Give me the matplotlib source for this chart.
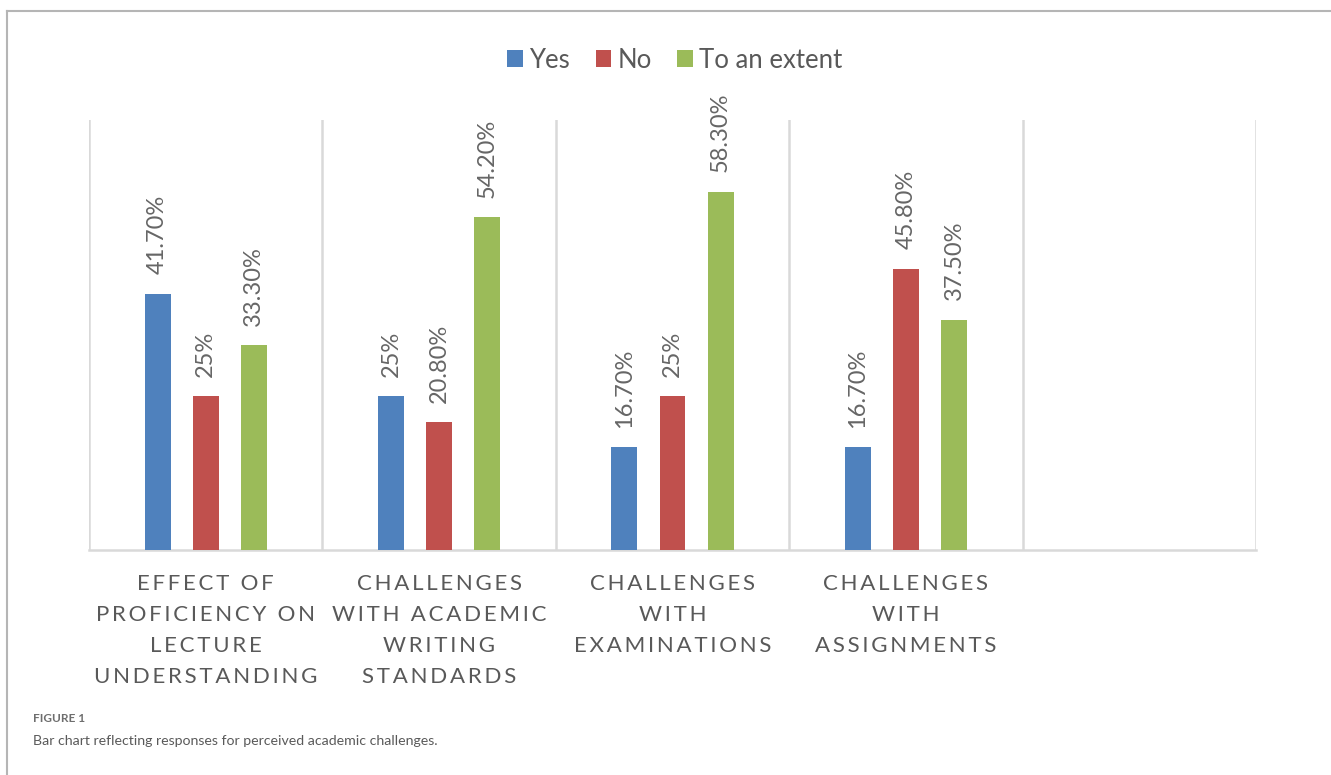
import numpy as np
import matplotlib
matplotlib.use('Agg')
from matplotlib import pyplot as plt
from matplotlib.lines import Line2D

plt.rcParams['font.family'] = ['Lato', 'DejaVu Sans']

categories = [
    ['EFFECT OF', 'PROFICIENCY ON', 'LECTURE', 'UNDERSTANDING'],
    ['CHALLENGES', 'WITH ACADEMIC', 'WRITING', 'STANDARDS'],
    ['CHALLENGES', 'WITH', 'EXAMINATIONS'],
    ['CHALLENGES', 'WITH', 'ASSIGNMENTS'],
]
series = ['Yes', 'No', 'To an extent']
yes_vals = [41.7, 25, 16.7, 16.7]
no_vals = [25, 20.8, 25, 45.8]
extent_vals = [33.3, 54.2, 58.3, 37.5]
colors = ['#4F81BD', '#C0504D', '#9BBB59']

n_slots = 5  # the last slot is empty in the original
grid_c = '#d9d9d9'
text_c = '#595959'
TS = '\u2009'  # thin space for letter spacing


def spaced(line):
    # imitate the letter spacing of the original axis labels
    return (TS + ' ' + TS).join(TS.join(w) for w in line.split())


def pct(v):
    return f'{v:g}%' if float(v).is_integer() else f'{v:.2f}%'


fig = plt.figure(figsize=(13.31, 7.75), dpi=100)
ax = fig.add_axes([89 / 1331, 1 - 550 / 775, (1256 - 89) / 1331, 430 / 775])

x = np.arange(len(categories))
w = 0.111
offs = [-0.206, 0, 0.206]
bars = []
for vals, off, col, name in zip([yes_vals, no_vals, extent_vals], offs, colors, series):
    b = ax.bar(x + off, vals, w, color=col, label=name, zorder=3)
    bars.append(b)
    for rect, v in zip(b, vals):
        ax.annotate(pct(v), (rect.get_x() + rect.get_width() / 2, rect.get_height()),
                    xytext=(0, 14), textcoords='offset points', rotation=90,
                    ha='center', va='bottom', fontsize=17, color='#666666')

ax.set_xlim(-0.5, n_slots - 0.5)
ax.set_ylim(0, 70)
for xb in np.arange(-0.5, n_slots, 1):
    ax.axvline(xb, color=grid_c, lw=1.8, zorder=1)
for s in ['left', 'right', 'top']:
    ax.spines[s].set_visible(False)
ax.spines['bottom'].set_color(grid_c)
ax.spines['bottom'].set_linewidth(1.8)
ax.set_yticks([])
ax.set_xticks(x)
ax.set_xticklabels(['\n'.join(spaced(l) for l in c) for c in categories],
                   fontsize=16, color=text_c, linespacing=1.7)
ax.tick_params(axis='x', length=0, pad=17)

fig.legend(handles=bars, labels=series, loc='center', bbox_to_anchor=(0.507, 1 - 60 / 775),
           ncol=3, frameon=False, fontsize=18.5, handlelength=0.6, handleheight=0.6,
           handletextpad=0.25, columnspacing=1.0, labelcolor=text_c)

# outer frame (top and left edges only)
fx = 7 / 1331
fy = 1 - 11 / 775
fig.add_artist(Line2D([fx, 1], [fy, fy], color='#b5b5b5', lw=1.5))
fig.add_artist(Line2D([fx, fx], [0, fy], color='#b5b5b5', lw=1.5))

fig.text(33 / 1331, 1 - 722 / 775, 'FIGURE 1', fontsize=8.5, fontweight='bold', color='#6e6e6e')
fig.text(33 / 1331, 1 - 745 / 775, 'Bar chart reflecting responses for perceived academic challenges.',
         fontsize=10.2, color='#5a5a5a')

fig.savefig('out.png', dpi=100)
